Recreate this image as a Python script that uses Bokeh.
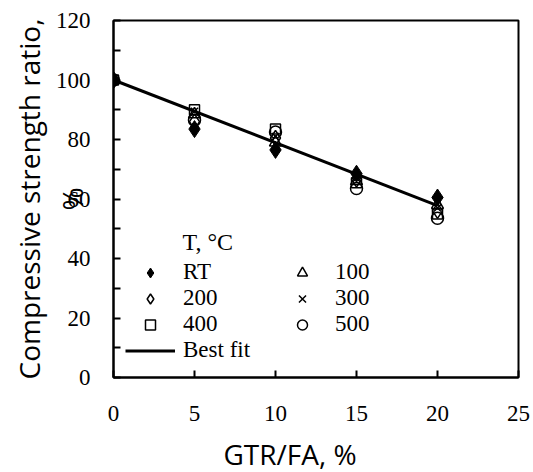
from bokeh.plotting import figure
from bokeh.models import Range1d, FixedTicker, Legend, LegendItem, Label, Title
from bokeh.embed import file_html
from bokeh.resources import INLINE

# data
gtr = [0, 5, 10, 15, 20]
rt = [100, 83.5, 76.5, 68.5, 60.5]
t100 = [100, 88.5, 79, 66, 58]
t200 = [100, 86, 80.5, 66.5, 56]
t300 = [100, 89.5, 81, 67, 57]
t400 = [100, 90, 83.5, 65.5, 55]
t500 = [100, 86.5, 82.5, 63.5, 53.5]
fit_x = [0, 20]
fit_y = [100, 57.8]
x_ticks = [0, 5, 10, 15, 20, 25]
y_ticks = [0, 20, 40, 60, 80, 100, 120]

p = figure(frame_width=405, frame_height=357, min_border_left=113, min_border_right=15,
           min_border_top=20, min_border_bottom=95, output_backend="svg", toolbar_location=None,
           x_range=Range1d(0, 25), y_range=Range1d(0, 120))
p.background_fill_color = "white"
p.border_fill_color = "white"
p.grid.visible = False
p.outline_line_color = "black"
p.outline_line_width = 2

serif = "Liberation Serif"
sans = "Open Sans"

xa = p.xaxis[0]
ya = p.yaxis[0]
xa.ticker = FixedTicker(ticks=x_ticks)
ya.ticker = FixedTicker(ticks=y_ticks, minor_ticks=[10, 30, 50, 70, 90, 110])
for ax in (xa, ya):
    ax.axis_line_width = 2
    ax.axis_line_color = "black"
    ax.major_tick_in = 7
    ax.major_tick_out = 0
    ax.major_tick_line_width = 2
    ax.minor_tick_in = 7
    ax.minor_tick_out = 0
    ax.minor_tick_line_width = 2
    ax.major_label_text_font = serif
    ax.major_label_text_font_size = "23px"
    ax.major_label_text_color = "black"
    ax.axis_label_text_font = sans
    ax.axis_label_text_font_style = "normal"
    ax.axis_label_text_font_size = "28px"
    ax.axis_label_text_color = "black"
xa.minor_tick_in = 0
xa.major_label_standoff = 28
ya.major_label_standoff = 23
ya.axis_label = "%"
ya.axis_label_standoff = -38

p.add_layout(Title(text="Compressive strength ratio,", align="center", text_font=sans,
                   text_font_size="28px", text_font_style="normal", text_color="black",
                   standoff=4), "left")
p.add_layout(Title(text="GTR/FA, %", align="left", offset=110, text_font=sans,
                   text_font_size="28px", text_font_style="normal", text_color="black",
                   standoff=18), "below")

fit = p.line(fit_x, fit_y, line_color="black", line_width=3)
r_rt = p.scatter(gtr, rt, marker="diamond", size=17, fill_color="black", line_color="black")
r100 = p.scatter(gtr, t100, marker="triangle", size=12, fill_color=None, line_color="black", line_width=1.5)
r200 = p.scatter(gtr, t200, marker="diamond", size=15, fill_color=None, line_color="black", line_width=1.5)
r300 = p.scatter(gtr, t300, marker="x", size=10, line_color="black", line_width=1.5)
r400 = p.scatter(gtr, t400, marker="square", size=10, fill_color=None, line_color="black", line_width=1.5)
r500 = p.scatter(gtr, t500, marker="circle", size=12, fill_color=None, line_color="black", line_width=1.5)

legend = Legend(items=[
    LegendItem(label="RT", renderers=[r_rt]),
    LegendItem(label="200", renderers=[r200]),
    LegendItem(label="400", renderers=[r400]),
    LegendItem(label="Best fit", renderers=[fit]),
    LegendItem(label="100", renderers=[r100]),
    LegendItem(label="300", renderers=[r300]),
    LegendItem(label="500", renderers=[r500]),
], ncols=2, location=(12, 14))
legend.label_text_font = serif
legend.label_text_font_size = "23px"
legend.label_text_color = "black"
legend.glyph_width = 50
legend.glyph_height = 25
legend.label_height = 20
legend.label_standoff = 8
legend.label_width = 94
legend.spacing = 0
legend.padding = 0
legend.margin = 0
legend.border_line_color = None
legend.background_fill_alpha = 0
p.add_layout(legend, "center")

p.add_layout(Label(x=4.26, y=45.4, text="T, °C", text_font=serif, text_font_size="24px",
                   text_color="black", text_baseline="middle"))

open("out.html", "w").write(file_html(p, INLINE))
